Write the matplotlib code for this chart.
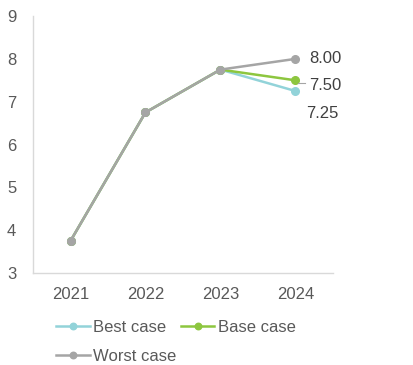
import matplotlib
matplotlib.use("Agg")
import matplotlib.pyplot as plt
from matplotlib.lines import Line2D

plt.rcParams['font.family'] = ['Liberation Sans', 'DejaVu Sans']

years = ["2021", "2022", "2023", "2024"]
best_case = [3.75, 6.75, 7.75, 7.25]
base_case = [3.75, 6.75, 7.75, 7.50]
worst_case = [3.75, 6.75, 7.75, 8.00]
y_ticks = [3, 4, 5, 6, 7, 8, 9]

c_best = "#92D3D9"
c_base = "#8DC63F"
c_worst = "#A5A5A5"
txt = "#595959"

fig = plt.figure(figsize=(4.13, 3.65), dpi=100)
ax = fig.add_axes([0.08, 0.252, 0.726, 0.704])
x = list(range(len(years)))

kw = dict(lw=1.8, marker='o', markersize=5.5)
h_best, = ax.plot(x, best_case, color=c_best, label="Best case", **kw)
h_base, = ax.plot(x, base_case, color=c_base, label="Base case", **kw)
h_worst, = ax.plot(x, worst_case, color=c_worst, label="Worst case", **kw)

ax.set_xlim(-0.5, 3.5)
ax.set_ylim(3, 9)
ax.set_yticks(y_ticks)
ax.set_xticks(x)
ax.set_xticklabels(years)
for s in ['top', 'right']:
    ax.spines[s].set_visible(False)
for s in ['left', 'bottom']:
    ax.spines[s].set_color("#D9D9D9")
    ax.spines[s].set_linewidth(1.0)
ax.tick_params(length=0, labelsize=12, labelcolor=txt)
ax.tick_params(axis='x', pad=10)
ax.tick_params(axis='y', pad=12)

lab = "#404040"
ax.annotate(f"{worst_case[3]:.2f}", (3, worst_case[3]), xytext=(10, 0),
            textcoords='offset points', ha='left', va='center', fontsize=12, color=lab)
ax.annotate(f"{base_case[3]:.2f}", (3, base_case[3]), xytext=(10, -4),
            textcoords='offset points', ha='left', va='center', fontsize=12, color=lab)
ax.annotate(f"{best_case[3]:.2f}", (3, best_case[3]), xytext=(8, -16),
            textcoords='offset points', ha='left', va='center', fontsize=12, color=lab)
ax.add_line(Line2D([3.03, 3.13], [base_case[3] - 0.06, base_case[3] - 0.06],
                   color="#A5A5A5", lw=0.8))

leg = fig.legend([h_best, h_worst, h_base], ["Best case", "Worst case", "Base case"],
                 loc='upper left', bbox_to_anchor=(0.12, 0.142), ncol=2, frameon=False,
                 fontsize=12, handlelength=2.0, handletextpad=0.2, columnspacing=0.3,
                 labelspacing=0.85, borderaxespad=0, markerscale=0.85)
for t in leg.get_texts():
    t.set_color(txt)

fig.savefig("out.png", dpi=100)
